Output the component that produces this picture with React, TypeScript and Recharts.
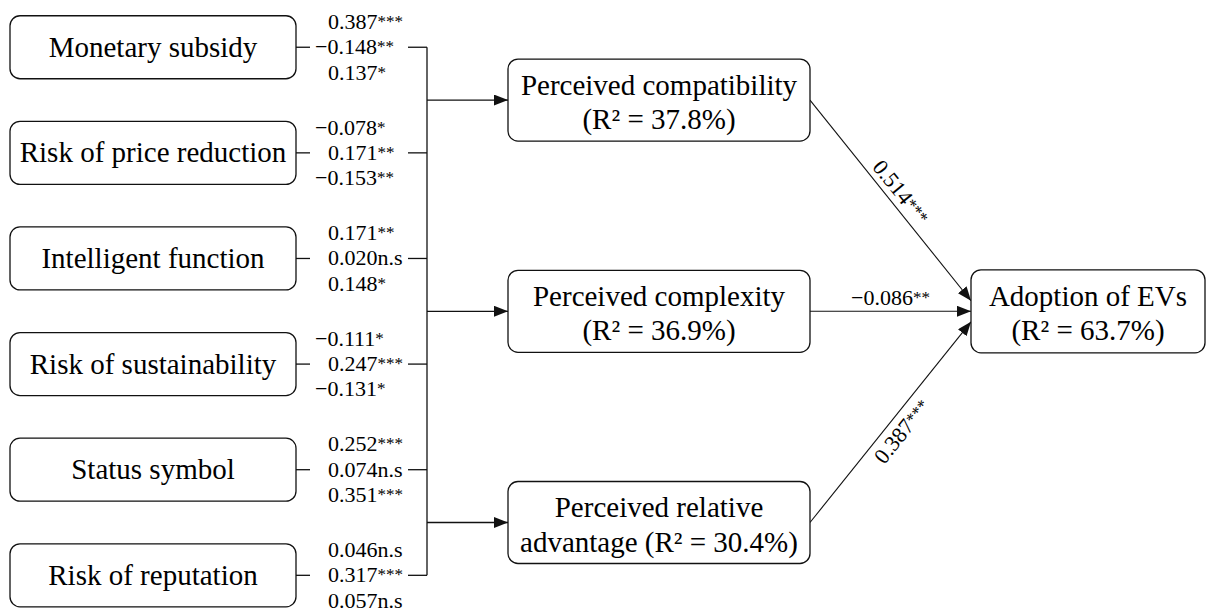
import { ScatterChart, Scatter, XAxis, YAxis, ReferenceLine } from "recharts"

const FONT = '"Liberation Serif", "Times New Roman", serif'
const INK = "#111"

// left-hand constructs, top to bottom
const PREDICTORS = [
  "Monetary subsidy",
  "Risk of price reduction",
  "Intelligent function",
  "Risk of sustainability",
  "Status symbol",
  "Risk of reputation",
]

// path coefficients of every predictor (same order) on the three mediators
const COEF_COMPATIBILITY = ["0.387***", "−0.078*", "0.171**", "−0.111*", "0.252***", "0.046n.s"]
const COEF_COMPLEXITY = ["−0.148**", "0.171**", "0.020n.s", "0.247***", "0.074n.s", "0.317***"]
const COEF_ADVANTAGE = ["0.137*", "−0.153**", "0.148*", "−0.131*", "0.351***", "0.057n.s"]

const MEDIATORS = [
  ["Perceived compatibility", "(R² = 37.8%)"],
  ["Perceived complexity", "(R² = 36.9%)"],
  ["Perceived relative", "advantage (R² = 30.4%)"],
]
const OUTCOME = ["Adoption of EVs", "(R² = 63.7%)"]

// mediator -> outcome coefficients
const PATH_COEFS = ["0.514***", "−0.086**", "0.387***"]

// layout (x in layout units, y in rows of the predictor column)
const COL = {
  predictor: 153,
  stubOut: 310,
  coef: 328,
  busIn: 408,
  bus: 427,
  mediatorIn: 508,
  mediator: 659,
  mediatorOut: 810,
  outcomeIn: 971,
  outcome: 1088,
}
const PRED_BOX = { w: 286, h: 63 }
const MED_BOX = { w: 302, h: 82 }
const OUT_BOX = { w: 234, h: 83 }
const MEDIATOR_ROW = [0.5, 2.5, 4.5]
const OUTCOME_ROW = 2.5
const ARRIVAL_ROW = [2.4, 2.5, 2.6]
const COEF_SPREAD = 0.24

const predictorPoints = PREDICTORS.map((name, i) => ({ x: COL.predictor, y: i, lines: [name] }))
const mediatorPoints = MEDIATORS.map((lines, i) => ({ x: COL.mediator, y: MEDIATOR_ROW[i], lines }))
const outcomePoints = [{ x: COL.outcome, y: OUTCOME_ROW, lines: OUTCOME }]

const coefPoints = PREDICTORS.flatMap((_, i) =>
  [COEF_COMPATIBILITY[i], COEF_COMPLEXITY[i], COEF_ADVANTAGE[i]].map((text, k) => ({
    x: COL.coef,
    y: i + (k - 1) * COEF_SPREAD,
    text,
  }))
)

const pathLabelPoints = MEDIATOR_ROW.map((row, i) => ({
  x: (COL.mediatorOut + COL.outcomeIn) / 2,
  y: (row + ARRIVAL_ROW[i]) / 2,
  text: PATH_COEFS[i],
  idx: i,
}))

function makeBox(w: number, h: number) {
  return (props: any) => {
    const { cx, cy, payload } = props
    const lines: string[] = payload.lines
    const first = lines.length === 1 ? 9.5 : -5.5
    return (
      <g>
        <rect x={cx - w / 2} y={cy - h / 2} width={w} height={h} rx={10} fill="#fff" stroke={INK} strokeWidth={1.3} />
        <text textAnchor="middle" fontFamily={FONT} fontSize={29} fill="#000">
          {lines.map((l, j) => (
            <tspan key={j} x={cx} y={cy + first + j * 34.5}>{l}</tspan>
          ))}
        </text>
      </g>
    )
  }
}

// number in normal size, significance stars smaller and raised
function coefParts(text: string) {
  const m = text.match(/^(.*?)(\*+)$/)
  if (!m) return [<tspan key="n">{text}</tspan>]
  return [
    <tspan key="n">{m[1]}</tspan>,
    <tspan key="s" fontSize={17} dy={-2}>{m[2]}</tspan>,
  ]
}

function CoefLabel(props: any) {
  const { cx, cy, payload } = props
  const neg = payload.text.startsWith("−")
  return (
    <text x={neg ? cx - 13 : cx} y={cy + 7} fontFamily={FONT} fontSize={22} fill="#000">
      {coefParts(payload.text)}
    </text>
  )
}

function PathLabel(props: any) {
  const { cx, cy, payload } = props
  // slanted labels follow their arrows
  const angle = payload.idx === 0 ? 51 : payload.idx === 2 ? -51.4 : 0
  const dy = payload.idx === 0 ? -6 : payload.idx === 2 ? 22 : -6
  return (
    <text
      x={cx}
      y={cy + dy}
      textAnchor="middle"
      fontFamily={FONT}
      fontSize={22}
      fill="#000"
      transform={angle ? `rotate(${angle} ${cx} ${cy})` : undefined}
    >
      {coefParts(payload.text)}
    </text>
  )
}

const lineStyle = { stroke: INK, strokeWidth: 1.3 }

export default function App() {
  return (
    <div style={{ position: "absolute", left: 0, top: 0, background: "#fff" }}>
      <ScatterChart width={1206} height={613} margin={{ top: 5, right: 0, bottom: 6, left: 0 }}>
        <defs>
          <marker id="arrowHead" markerWidth={14} markerHeight={11} refX={14} refY={5.5} orient="auto" markerUnits="userSpaceOnUse">
            <path d="M0,0 L14,5.5 L0,11 z" fill={INK} />
          </marker>
        </defs>
        <XAxis type="number" dataKey="x" domain={[0, 1206]} hide />
        <YAxis type="number" dataKey="y" domain={[-0.4, 5.3]} reversed hide />

        {/* stubs from each predictor into the bus */}
        {PREDICTORS.map((_, i) => (
          <ReferenceLine key={`a${i}`} segment={[{ x: COL.predictor + PRED_BOX.w / 2, y: i }, { x: COL.stubOut, y: i }]} {...lineStyle} />
        ))}
        {PREDICTORS.map((_, i) => (
          <ReferenceLine key={`b${i}`} segment={[{ x: COL.busIn, y: i }, { x: COL.bus, y: i }]} {...lineStyle} />
        ))}
        <ReferenceLine segment={[{ x: COL.bus, y: 0 }, { x: COL.bus, y: PREDICTORS.length - 1 }]} {...lineStyle} />

        {/* bus -> mediators */}
        {MEDIATOR_ROW.map((row, i) => (
          <ReferenceLine
            key={`m${i}`}
            segment={[{ x: COL.bus, y: row }, { x: COL.mediatorIn, y: row }]}
            {...lineStyle}
            markerEnd="url(#arrowHead)"
          />
        ))}

        {/* mediators -> outcome */}
        {MEDIATOR_ROW.map((row, i) => (
          <ReferenceLine
            key={`o${i}`}
            segment={[{ x: COL.mediatorOut, y: row }, { x: COL.outcomeIn, y: ARRIVAL_ROW[i] }]}
            stroke={INK}
            strokeWidth={1.1}
            markerEnd="url(#arrowHead)"
          />
        ))}

        <Scatter data={predictorPoints} shape={makeBox(PRED_BOX.w, PRED_BOX.h)} isAnimationActive={false} />
        <Scatter data={mediatorPoints} shape={makeBox(MED_BOX.w, MED_BOX.h)} isAnimationActive={false} />
        <Scatter data={outcomePoints} shape={makeBox(OUT_BOX.w, OUT_BOX.h)} isAnimationActive={false} />
        <Scatter data={coefPoints} shape={CoefLabel} isAnimationActive={false} />
        <Scatter data={pathLabelPoints} shape={PathLabel} isAnimationActive={false} />
      </ScatterChart>
    </div>
  )
}
